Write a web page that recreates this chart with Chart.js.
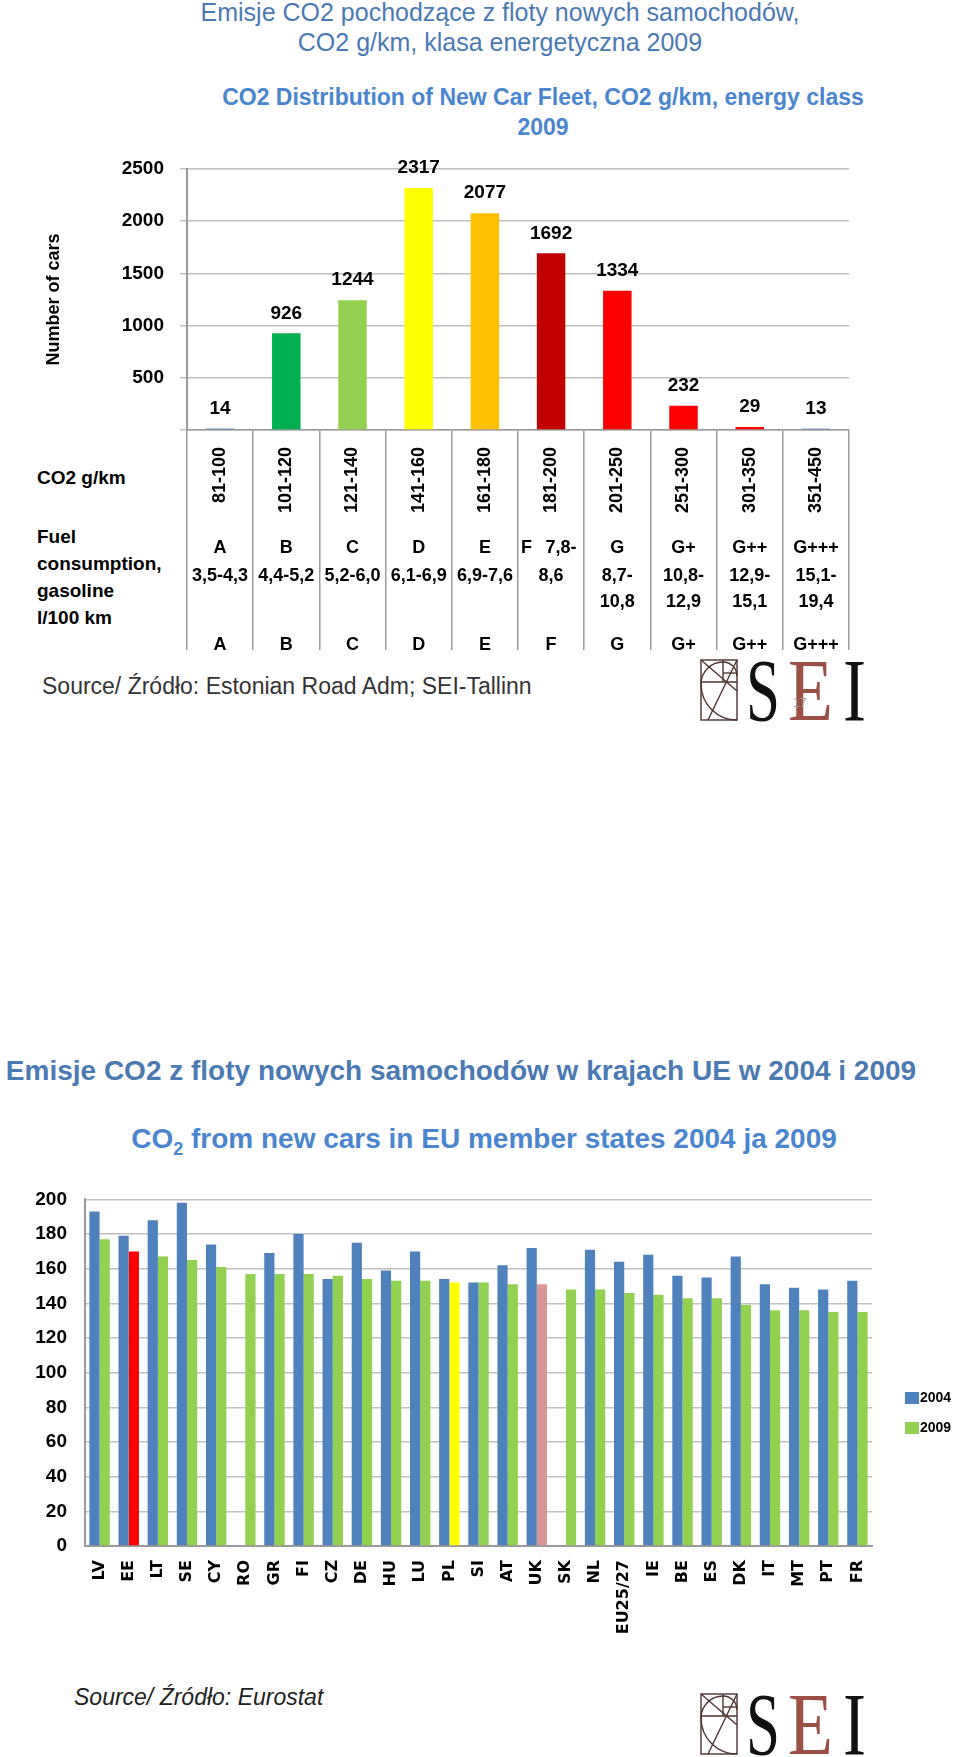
<!DOCTYPE html>
<html>
<head>
<meta charset="utf-8">
<script src="https://cdn.jsdelivr.net/npm/chart.js@4.4.1/dist/chart.umd.min.js"></script>
<style>
body{margin:0;width:960px;height:1757px;position:relative;overflow:hidden;background:#fff;font-family:"Liberation Sans",Arial,sans-serif}
.t{position:absolute;white-space:nowrap}
.pageTitle{color:#4a7ab4;text-align:center}
.chartTitle{color:#4a86d0;font-weight:bold;text-align:center}
.lbl{font-weight:bold;font-size:19px;color:#000}
canvas{position:absolute;left:0}
.logo{position:absolute;left:700px}
</style>
</head>
<body>

<div class="t pageTitle" style="left:40px;width:920px;top:-3px;font-size:25px;line-height:30px">Emisje CO2 pochodzące z floty nowych samochodów,<br>CO2 g/km, klasa energetyczna 2009</div>
<div class="t chartTitle" style="left:83px;width:920px;top:82px;font-size:23px;line-height:30px">CO2 Distribution of New Car Fleet, CO2 g/km, energy class<br>2009</div>

<div class="t lbl" style="left:37px;top:464px;line-height:27px">CO2 g/km</div>
<div class="t lbl" style="left:37px;top:523px;line-height:27px">Fuel<br>consumption,<br>gasoline<br>l/100 km</div>

<div style="position:absolute;left:0;top:140px;width:960px;height:520px"><canvas id="classChart"></canvas></div>

<div class="t" style="left:42px;top:671px;font-size:23px;line-height:30px;color:#333">Source/ Źródło: Estonian Road Adm; SEI-Tallinn</div>
<svg class="logo" style="top:659px" width="170" height="64" viewBox="0 0 170 64">
  <g fill="none" stroke="#4d3431" stroke-width="1.4">
    <rect x="1" y="1" width="36" height="60"/>
    <line x1="1" y1="23" x2="37" y2="23"/>
    <line x1="23" y1="1" x2="23" y2="23"/>
    <line x1="23" y1="14" x2="37" y2="14"/>
    <path d="M37 61 A36 36 0 0 1 1 25 A22 22 0 0 1 23 3 A14 14 0 0 1 37 17"/>
    <line x1="1" y1="1" x2="37" y2="32"/>
    <line x1="37" y1="1" x2="8" y2="61"/>
  </g>
  <text x="46" y="61" font-family="Liberation Serif" font-size="88" fill="#111" textLength="34" lengthAdjust="spacingAndGlyphs">S</text>
  <text x="88" y="61" font-family="Liberation Serif" font-size="88" fill="#9c4f45" textLength="45" lengthAdjust="spacingAndGlyphs">E</text>
  <text x="143" y="61" font-family="Liberation Serif" font-size="88" fill="#111" textLength="23" lengthAdjust="spacingAndGlyphs">I</text>
  <text x="93" y="48" font-family="Liberation Sans" font-size="12" fill="#999">17</text>
</svg>

<div class="t pageTitle" style="left:0;width:922px;top:1054px;font-size:28px;line-height:34px;font-weight:bold">Emisje CO2 z floty nowych samochodów w krajach UE w 2004 i 2009</div>
<div class="t chartTitle" style="left:0;width:968px;top:1121px;font-size:28px;line-height:36px">CO<sub style="font-size:18px;vertical-align:-7px">2</sub> from new cars in EU member states 2004 ja 2009</div>

<div style="position:absolute;left:0;top:1170px;width:960px;height:500px"><canvas id="euChart"></canvas></div>

<div class="t" style="left:74px;top:1682px;font-size:23px;line-height:30px;font-style:italic;color:#222">Source/ Źródło: Eurostat</div>
<svg class="logo" style="top:1693px" width="170" height="64" viewBox="0 0 170 64">
  <g fill="none" stroke="#4d3431" stroke-width="1.4">
    <rect x="1" y="1" width="36" height="60"/>
    <line x1="1" y1="23" x2="37" y2="23"/>
    <line x1="23" y1="1" x2="23" y2="23"/>
    <line x1="23" y1="14" x2="37" y2="14"/>
    <path d="M37 61 A36 36 0 0 1 1 25 A22 22 0 0 1 23 3 A14 14 0 0 1 37 17"/>
    <line x1="1" y1="1" x2="37" y2="32"/>
    <line x1="37" y1="1" x2="8" y2="61"/>
  </g>
  <text x="46" y="61" font-family="Liberation Serif" font-size="88" fill="#111" textLength="34" lengthAdjust="spacingAndGlyphs">S</text>
  <text x="88" y="61" font-family="Liberation Serif" font-size="88" fill="#9c4f45" textLength="45" lengthAdjust="spacingAndGlyphs">E</text>
  <text x="143" y="61" font-family="Liberation Serif" font-size="88" fill="#111" textLength="23" lengthAdjust="spacingAndGlyphs">I</text>
</svg>

<script>
// --- wykres 1: klasy energetyczne 2009 ---
const classRanges = ['81-100', '101-120', '121-140', '141-160', '161-180', '181-200', '201-250', '251-300', '301-350', '351-450'];
const classCounts = [14, 926, 1244, 2317, 2077, 1692, 1334, 232, 29, 13];
const classLetters = ['A', 'B', 'C', 'D', 'E', 'F', 'G', 'G+', 'G++', 'G+++'];
const fuelExtra = ['', '', '', '', '', '7,8-', '', '', '', ''];
const fuelLine1 = ['3,5-4,3', '4,4-5,2', '5,2-6,0', '6,1-6,9', '6,9-7,6', '8,6', '8,7-', '10,8-', '12,9-', '15,1-'];
const fuelLine2 = ['', '', '', '', '', '', '10,8', '12,9', '15,1', '19,4'];
const countTicks = [0, 500, 1000, 1500, 2000, 2500];
const classColors = ['#4f81bd', '#00b050', '#92d050', '#ffff00', '#ffc000', '#c00000', '#ff0000', '#ff0000', '#ff0000', '#4f81bd'];

// --- wykres 2: kraje UE 2004 / 2009 ---
const countries = ['LV', 'EE', 'LT', 'SE', 'CY', 'RO', 'GR', 'FI', 'CZ', 'DE', 'HU', 'LU', 'PL', 'SI', 'AT', 'UK', 'SK', 'NL', 'EU25/27', 'IE', 'BE', 'ES', 'DK', 'IT', 'MT', 'PT', 'FR'];
const co2_2004 = [193, 179, 188, 198, 174, null, 169, 180, 154, 175, 159, 170, 154, 152, 162, 172, null, 171, 164, 168, 156, 155, 167, 151, 149, 148, 153];
const co2_2009 = [177, 170, 167, 165, 161, 157, 157, 157, 156, 154, 153, 153, 152, 152, 151, 151, 148, 148, 146, 145, 143, 143, 139, 136, 136, 135, 135];
const euTicks = [0, 20, 40, 60, 80, 100, 120, 140, 160, 180, 200];
const seriesNames = ['2004', '2009'];
const highlight = { EE: '#ff0000', PL: '#ffff00', UK: '#d99694' };

const tickFont = { family: '"Liberation Sans", Arial, sans-serif', size: 19, weight: 'bold' };

const classTable = {
    id: 'classTable',
    afterDraw(chart) {
        const { ctx, scales: { x, y }, chartArea } = chart;
        const base = chartArea.bottom;
        ctx.save();
        ctx.fillStyle = '#000';
        ctx.textBaseline = 'middle';
        classCounts.forEach((v, i) => {
            const cx = x.getPixelForValue(i);
            const half = x.getPixelForValue(1) - x.getPixelForValue(0);
            ctx.font = 'bold 19px "Liberation Sans", Arial';
            ctx.textAlign = 'center';
            ctx.fillText(String(v), cx, y.getPixelForValue(v) - 20);

            // zakres CO2 pionowo
            ctx.save();
            ctx.translate(cx, base + 17);
            ctx.rotate(-Math.PI / 2);
            ctx.font = 'bold 18px "Liberation Sans", Arial';
            ctx.textAlign = 'right';
            ctx.fillText(classRanges[i], 0, 0);
            ctx.restore();

            ctx.font = 'bold 18px "Liberation Sans", Arial';
            if (fuelExtra[i]) {
                ctx.textAlign = 'left';
                ctx.fillText(classLetters[i], cx - half / 2 + 3, base + 118);
                ctx.textAlign = 'center';
                ctx.fillText(fuelExtra[i], cx + 10, base + 118);
            } else {
                ctx.textAlign = 'center';
                ctx.fillText(classLetters[i], cx, base + 118);
            }
            ctx.textAlign = 'center';
            ctx.fillText(fuelLine1[i], cx, base + 146);
            if (fuelLine2[i]) ctx.fillText(fuelLine2[i], cx, base + 172);
            ctx.fillText(classLetters[i], cx, base + 215);
        });
        ctx.restore();
    }
};

new Chart(document.getElementById('classChart'), {
    type: 'bar',
    data: {
        labels: classRanges,
        datasets: [{
            data: classCounts,
            backgroundColor: classColors,
            barPercentage: 0.43,
            categoryPercentage: 1.0
        }]
    },
    options: {
        responsive: true,
        maintainAspectRatio: false,
        animation: false,
        layout: { padding: { top: 29, right: 111, left: 0, bottom: 0 } },
        plugins: { legend: { display: false }, tooltip: { enabled: false } },
        scales: {
            x: {
                grid: { drawOnChartArea: false, drawTicks: true, tickLength: 220, color: '#9a9a9a', lineWidth: 1.5, offset: true },
                border: { display: true, color: '#9a9a9a', width: 1.5 },
                ticks: { display: false },
                afterFit: (s) => { s.height = 230; }
            },
            y: {
                min: 0,
                max: 2500,
                afterBuildTicks: (s) => { s.ticks = countTicks.map(v => ({ value: v })); },
                ticks: { font: tickFont, color: '#000', padding: 16, callback: (v) => v === 0 ? '' : v },
                grid: { color: '#c0c0c0', lineWidth: 1.5, tickLength: 7 },
                border: { color: '#9a9a9a', width: 2 },
                title: { display: true, text: 'Number of cars', color: '#000', font: { family: '"Liberation Sans", Arial', size: 18, weight: 'bold' }, padding: { top: 43, bottom: 0 } },
                afterFit: (s) => { s.width = 187; }
            }
        }
    },
    plugins: [classTable]
});

const euLegend = {
    id: 'euLegend',
    afterDraw(chart) {
        const { ctx } = chart;
        ctx.save();
        ctx.font = 'bold 14px "Liberation Sans Narrow", "Liberation Sans", Arial';
        ctx.textBaseline = 'middle';
        ctx.textAlign = 'left';
        seriesNames.forEach((name, i) => {
            const yy = 228 + i * 30;
            ctx.fillStyle = i === 0 ? '#4f81bd' : '#92d050';
            ctx.fillRect(905, yy - 6, 14, 12);
            ctx.fillStyle = '#000';
            ctx.fillText(name, 920, yy);
        });
        ctx.restore();
    }
};

new Chart(document.getElementById('euChart'), {
    type: 'bar',
    data: {
        labels: countries,
        datasets: [
            { label: seriesNames[0], data: co2_2004, backgroundColor: '#4f81bd' },
            { label: seriesNames[1], data: co2_2009, backgroundColor: countries.map(c => highlight[c] || '#92d050') }
        ]
    },
    options: {
        responsive: true,
        maintainAspectRatio: false,
        animation: false,
        datasets: { bar: { barPercentage: 1.0, categoryPercentage: 0.7 } },
        layout: { padding: { top: 19, right: 88, left: 0, bottom: 0 } },
        plugins: { legend: { display: false }, tooltip: { enabled: false } },
        scales: {
            x: {
                grid: { display: false, drawTicks: false },
                border: { display: true, color: '#9a9a9a', width: 2 },
                ticks: { autoSkip: false, minRotation: 90, maxRotation: 90, padding: 14, color: '#000', font: { family: '"DejaVu Sans", sans-serif', size: 16, weight: 'bold' } },
                afterFit: (s) => { s.height = 124; }
            },
            y: {
                min: 0,
                max: 200,
                afterBuildTicks: (s) => { s.ticks = euTicks.map(v => ({ value: v })); },
                ticks: { font: tickFont, color: '#000', padding: 18 },
                grid: { color: '#c0c0c0', lineWidth: 1.5, drawTicks: false },
                border: { color: '#9a9a9a', width: 2 },
                afterFit: (s) => { s.width = 85; }
            }
        }
    },
    plugins: [euLegend]
});
</script>
</body>
</html>
